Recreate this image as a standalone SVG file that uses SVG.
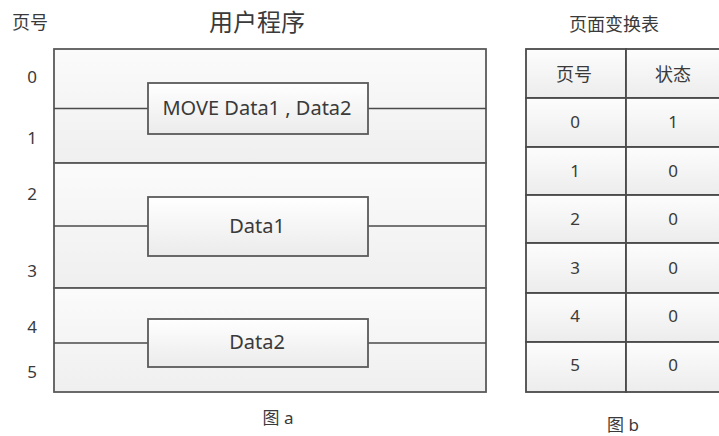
<svg xmlns="http://www.w3.org/2000/svg" width="719" height="436" viewBox="0 0 719 436">
<defs>
<linearGradient id="secFill" x1="0" y1="0" x2="0" y2="1">
<stop offset="0" stop-color="#fbfbfb"/><stop offset="1" stop-color="#efefef"/>
</linearGradient>
<linearGradient id="boxFill" x1="0" y1="0" x2="0" y2="1">
<stop offset="0" stop-color="#ffffff"/><stop offset="1" stop-color="#ebebeb"/>
</linearGradient>
<linearGradient id="cellFill" x1="0" y1="0" x2="0" y2="1">
<stop offset="0" stop-color="#fdfdfd"/><stop offset="1" stop-color="#ececec"/>
</linearGradient>
</defs>
<style>
text{font-family:"Noto Sans","Open Sans","Noto Sans CJK SC",sans-serif;fill:#3a3a3a;text-anchor:middle;dominant-baseline:central}
.lbl{font-size:18px}
.cap{font-size:17px}
.num{font-size:17px}
.title{font-size:24px}
.boxt{font-size:20px}
.sec{fill:url(#secFill);stroke:#5a5a5a;stroke-width:1.8}
.box{fill:url(#boxFill);stroke:#5a5a5a;stroke-width:1.8}
.cell{fill:url(#cellFill);stroke:#4a4a4a;stroke-width:1.8}
.conn{stroke:#4a4a4a;stroke-width:1.6;fill:none}
</style>
<rect width="719" height="436" fill="#ffffff"/>
<g id="labels">
<text class="lbl" x="30" y="22">页号</text>
<text class="title" x="257" y="21">用户程序</text>
<text class="num" x="32" y="76">0</text>
<text class="num" x="32" y="137">1</text>
<text class="num" x="32" y="193">2</text>
<text class="num" x="32" y="270">3</text>
<text class="num" x="32" y="326">4</text>
<text class="num" x="32" y="371">5</text>
<text class="cap" x="278" y="417">图 a</text>
</g>
<g id="program">
<rect class="sec" x="54" y="49" width="432" height="114"/>
<rect class="sec" x="54" y="163" width="432" height="125"/>
<rect class="sec" x="54" y="288" width="432" height="104"/>
</g>
<g id="connectors">
<line class="conn" x1="54" y1="108.5" x2="148" y2="108.5"/>
<line class="conn" x1="368" y1="108.5" x2="486" y2="108.5"/>
<line class="conn" x1="54" y1="226" x2="148" y2="226"/>
<line class="conn" x1="368" y1="226" x2="486" y2="226"/>
<line class="conn" x1="54" y1="343" x2="148" y2="343"/>
<line class="conn" x1="368" y1="343" x2="486" y2="343"/>
</g>
<g id="move">
<rect class="box" x="148" y="83" width="220" height="51"/>
<text class="boxt" x="257" y="107">MOVE Data1 , Data2</text>
</g>
<g id="data1">
<rect class="box" x="148" y="197" width="220" height="59"/>
<text class="boxt" x="257" y="225">Data1</text>
</g>
<g id="data2">
<rect class="box" x="148" y="319" width="220" height="48"/>
<text class="boxt" x="257" y="341">Data2</text>
</g>
<g id="table">
<text class="lbl" x="614" y="24">页面变换表</text>
<rect class="cell" x="526" y="49" width="100" height="49"/>
<rect class="cell" x="626" y="49" width="96" height="49"/>
<text class="lbl" x="574" y="74">页号</text>
<text class="lbl" x="673" y="74">状态</text>
<rect class="cell" x="526" y="98" width="100" height="49"/>
<rect class="cell" x="626" y="98" width="96" height="49"/>
<text class="num" x="575" y="121">0</text>
<text class="num" x="673" y="121">1</text>
<rect class="cell" x="526" y="147" width="100" height="48"/>
<rect class="cell" x="626" y="147" width="96" height="48"/>
<text class="num" x="575" y="170">1</text>
<text class="num" x="673" y="170">0</text>
<rect class="cell" x="526" y="195" width="100" height="48"/>
<rect class="cell" x="626" y="195" width="96" height="48"/>
<text class="num" x="575" y="218">2</text>
<text class="num" x="673" y="218">0</text>
<rect class="cell" x="526" y="243" width="100" height="50"/>
<rect class="cell" x="626" y="243" width="96" height="50"/>
<text class="num" x="575" y="267">3</text>
<text class="num" x="673" y="267">0</text>
<rect class="cell" x="526" y="293" width="100" height="49"/>
<rect class="cell" x="626" y="293" width="96" height="49"/>
<text class="num" x="575" y="315">4</text>
<text class="num" x="673" y="315">0</text>
<rect class="cell" x="526" y="342" width="100" height="50"/>
<rect class="cell" x="626" y="342" width="96" height="50"/>
<text class="num" x="575" y="364">5</text>
<text class="num" x="673" y="364">0</text>
<text class="cap" x="623" y="424">图 b</text>
</g>
</svg>
